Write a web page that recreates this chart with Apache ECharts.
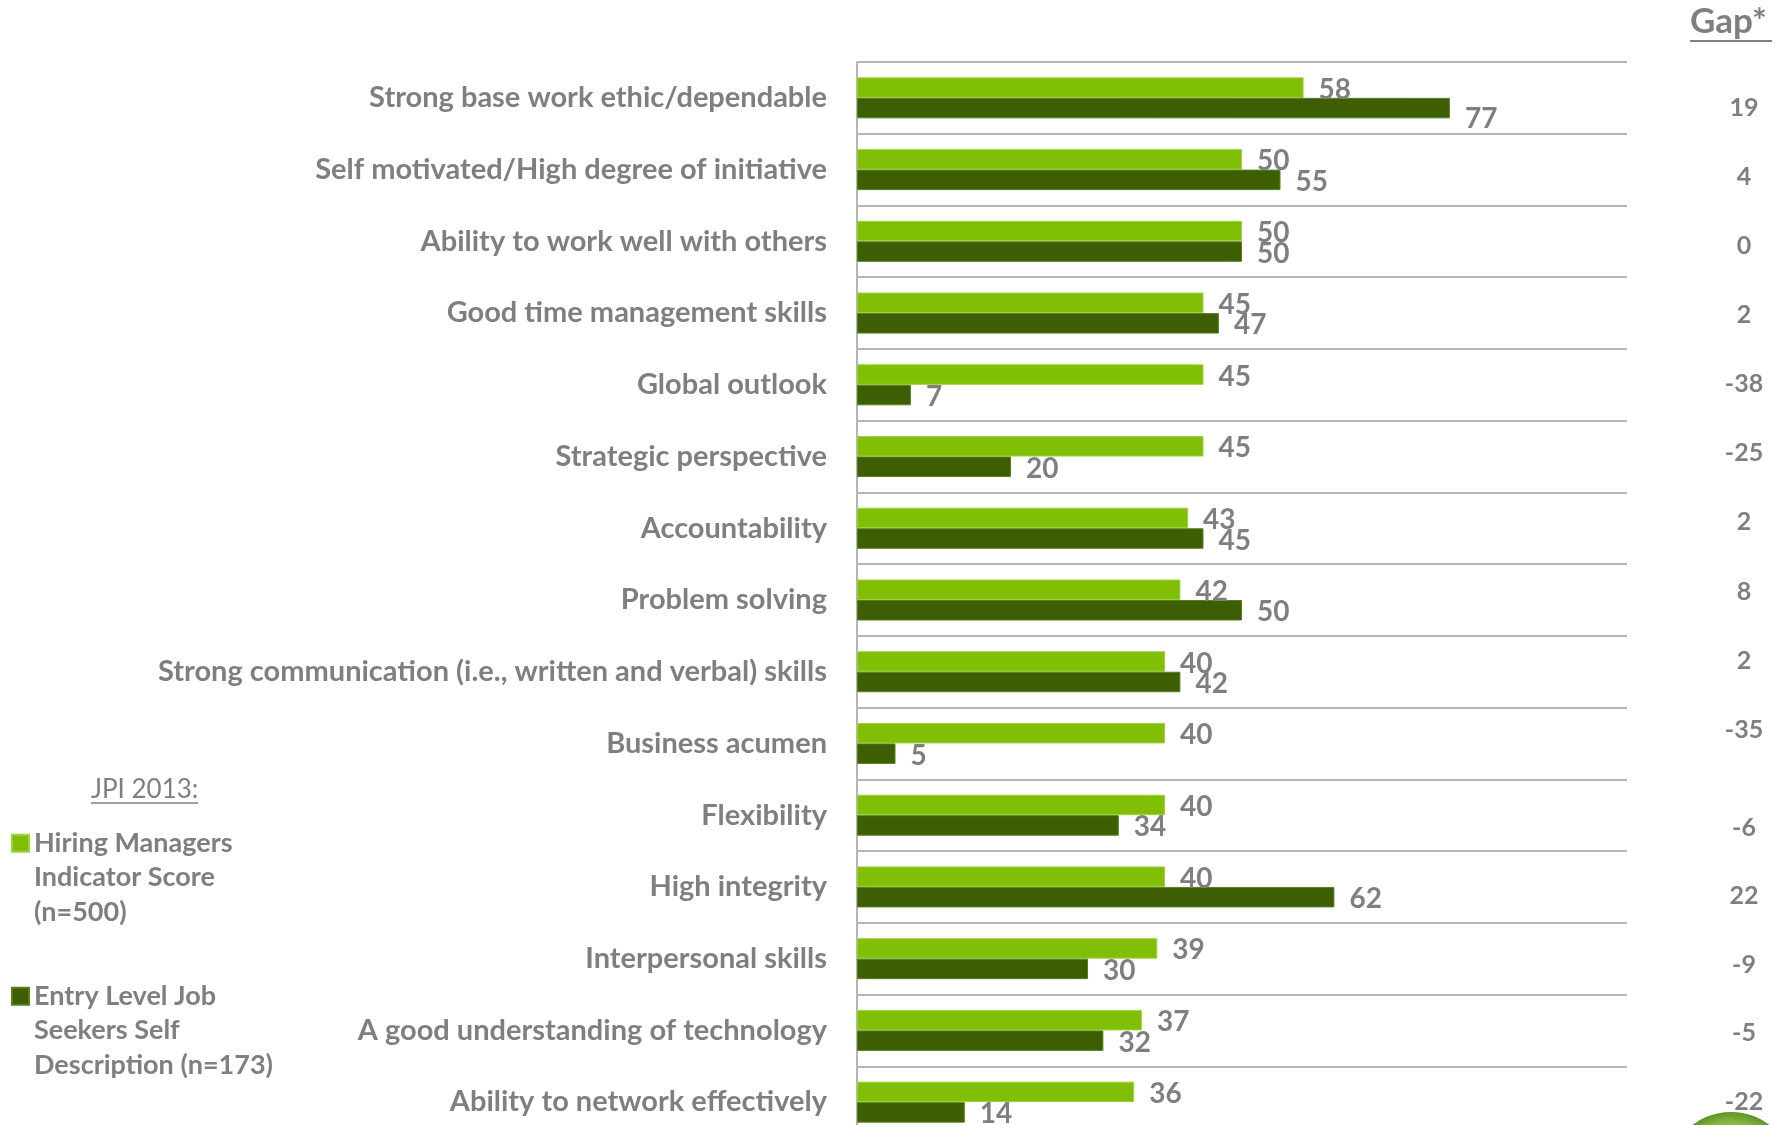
<!DOCTYPE html>
<html>
<head>
<meta charset="utf-8">
<title>JPI 2013 – Hiring managers vs. entry level job seekers</title>
<script src="https://cdn.jsdelivr.net/npm/echarts/dist/echarts.min.js"></script>
<style>
  html, body { margin: 0; padding: 0; background: #ffffff; }
  #chart { width: 1782px; height: 1125px; }
</style>
</head>
<body>
<div id="chart"></div>
<script>
// Attributes, top to bottom
const categories = [
  'Strong base work ethic/dependable',
  'Self motivated/High degree of initiative',
  'Ability to work well with others',
  'Good time management skills',
  'Global outlook',
  'Strategic perspective',
  'Accountability',
  'Problem solving',
  'Strong communication (i.e., written and verbal) skills',
  'Business acumen',
  'Flexibility',
  'High integrity',
  'Interpersonal skills',
  'A good understanding of technology',
  'Ability to network effectively'
];

// Hiring Managers Indicator Score (n=500)
const hiringScores = [58, 50, 50, 45, 45, 45, 43, 42, 40, 40, 40, 40, 39, 37, 36];
// Entry Level Job Seekers Self Description (n=173)
const seekerScores = [77, 55, 50, 47, 7, 20, 45, 50, 42, 5, 34, 62, 30, 32, 14];
// Gap column
const gapValues = [19, 4, 0, 2, -38, -25, 2, 8, 2, -35, -6, 22, -9, -5, -22];

const seriesNames = [
  'Hiring Managers Indicator Score (n=500)',
  'Entry Level Job Seekers Self Description (n=173)'
];
const legendLines = [
  ['Hiring Managers', 'Indicator Score', '(n=500)'],
  ['Entry Level Job', 'Seekers Self', 'Description (n=173)']
];

const GRAY = '#7f7f7f';
const RULE = '#b5b5b5';
const LIGHT = '#80bf06';
const DARK = '#3d5e03';
const FONT = 'Lato, "Open Sans", sans-serif';

// the gap column is split in two blocks of text
const gapTop = gapValues.slice(0, 10);
const gapBottom = gapValues.slice(10);

const chart = echarts.init(document.getElementById('chart'), null, { renderer: 'canvas' });

const LEGEND_LINE = 34.5;
function legendBlock(idx, top) {
  const lines = legendLines[idx];
  // blank lines ahead of the text keep the square level with the first line
  const lead = new Array(lines.length - 1).fill('');
  return {
    data: [seriesNames[idx]],
    left: 11,
    top: top,
    orient: 'vertical',
    padding: 0,
    icon: 'rect',
    itemWidth: 17,
    itemHeight: 17,
    selectedMode: false,
    formatter: () => lead.concat(lines).join('\n'),
    textStyle: {
      color: GRAY,
      fontFamily: FONT,
      fontWeight: 'bold',
      fontSize: 27,
      lineHeight: LEGEND_LINE
    }
  };
}

function gapAxis(gridIndex, values) {
  return {
    type: 'category',
    gridIndex: gridIndex,
    inverse: true,
    data: values.map((v, i) => String(i)),
    axisLine: { show: false },
    axisTick: { show: false },
    splitLine: { show: false },
    axisLabel: {
      interval: 0,
      margin: 0,
      align: 'center',
      color: GRAY,
      fontFamily: FONT,
      fontWeight: 'bold',
      fontSize: 25,
      formatter: (v, i) => String(values[i])
    }
  };
}

const valueLabel = {
  show: true,
  position: 'right',
  distance: 15,
  offset: [0, 2],
  color: GRAY,
  fontFamily: FONT,
  fontWeight: 'bold',
  fontSize: 28
};

const option = {
  backgroundColor: '#ffffff',
  animation: false,
  grid: [
    { left: 857, top: 62, width: 770, height: 1076, outerBoundsMode: 'none', containLabel: false },
    { left: 1744, top: 73.5, width: 10, height: 690.6, outerBoundsMode: 'none', containLabel: false },
    { left: 1744, top: 793.2, width: 10, height: 343, outerBoundsMode: 'none', containLabel: false }
  ],
  xAxis: [
    { type: 'value', gridIndex: 0, min: 0, max: 100, show: false },
    { type: 'value', gridIndex: 1, min: 0, max: 1, show: false },
    { type: 'value', gridIndex: 2, min: 0, max: 1, show: false }
  ],
  yAxis: [
    {
      type: 'category',
      gridIndex: 0,
      inverse: true,
      data: categories,
      axisLine: { show: true, lineStyle: { color: RULE, width: 2 } },
      axisTick: { show: false },
      splitLine: { show: true, lineStyle: { color: RULE, width: 2 } },
      axisLabel: {
        interval: 0,
        margin: 30,
        color: GRAY,
        fontFamily: FONT,
        fontWeight: 'bold',
        fontSize: 29,
        padding: [2, 0, 0, 0]
      }
    },
    gapAxis(1, gapTop),
    gapAxis(2, gapBottom)
  ],
  legend: [legendBlock(0, 757), legendBlock(1, 910)],
  series: [
    {
      name: seriesNames[0],
      type: 'bar',
      xAxisIndex: 0,
      yAxisIndex: 0,
      data: hiringScores,
      barWidth: 20.5,
      barGap: '0%',
      itemStyle: { color: LIGHT, borderColor: '#9ed23c', borderWidth: 1 },
      label: valueLabel
    },
    {
      name: seriesNames[1],
      type: 'bar',
      xAxisIndex: 0,
      yAxisIndex: 0,
      // the first label sits a little lower, clear of the one above it
      data: seekerScores.map((v, i) => (i === 0 ? { value: v, label: { offset: [0, 11] } } : v)),
      barWidth: 20.5,
      barGap: '0%',
      itemStyle: { color: DARK, borderColor: '#56801a', borderWidth: 1 },
      label: valueLabel
    }
  ],
  graphic: [
    // column header
    {
      type: 'text',
      left: 1690,
      top: 4,
      style: { text: 'Gap*', fill: GRAY, font: 'bold 35px ' + FONT }
    },
    {
      type: 'line',
      shape: { x1: 1690, y1: 41, x2: 1772, y2: 41 },
      style: { stroke: GRAY, lineWidth: 2 }
    },
    // legend heading
    {
      type: 'text',
      left: 91,
      top: 777,
      style: { text: 'JPI 2013:', fill: GRAY, font: '26px ' + FONT }
    },
    {
      type: 'line',
      shape: { x1: 91, y1: 803, x2: 198, y2: 803 },
      style: { stroke: GRAY, lineWidth: 1.5 }
    },
    // corner badge, mostly below the page edge
    {
      type: 'circle',
      shape: { cx: 1731, cy: 1176, r: 64 },
      style: {
        fill: {
          type: 'radial', x: 0.5, y: 0.5, r: 0.5,
          colorStops: [
            { offset: 0, color: '#c6e09c' },
            { offset: 0.8, color: '#8fbf4a' },
            { offset: 1, color: '#5f9322' }
          ]
        }
      },
      z: 0
    }
  ]
};

chart.setOption(option);
</script>
</body>
</html>
